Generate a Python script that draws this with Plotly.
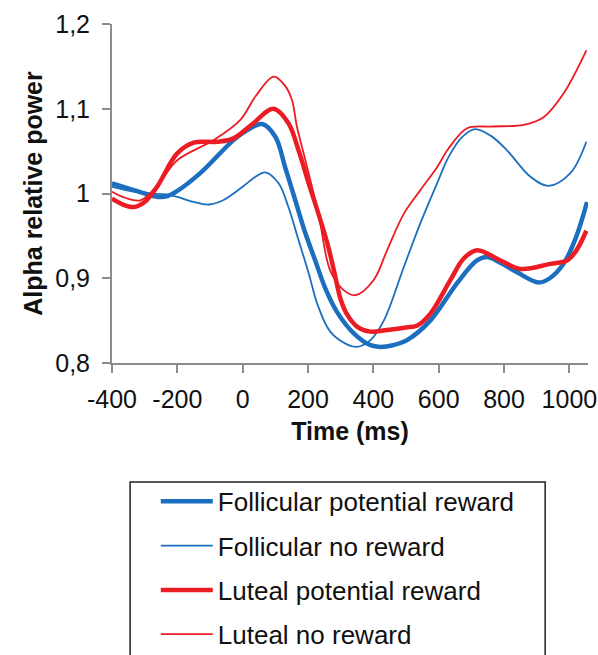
import plotly.graph_objects as go

# Time axis (ms) and alpha relative power for each condition
fol_pot_t = [-400, -350, -300, -260, -230, -200, -130, -28, 20, 59, 100, 130, 161, 192,
             222, 253, 289, 340, 391, 421, 460, 503, 574, 656, 717, 748, 790, 840, 906,
             940, 982, 1020, 1054]
fol_pot_v = [1.012, 1.006, 1.000, 0.996, 0.997, 1.003, 1.024, 1.063, 1.076, 1.082, 1.067,
             1.031, 0.992, 0.953, 0.921, 0.888, 0.860, 0.835, 0.821, 0.819, 0.821, 0.827,
             0.850, 0.894, 0.921, 0.925, 0.918, 0.907, 0.895, 0.900, 0.917, 0.948, 0.990]

fol_no_t = [-400, -330, -283, -232, -200, -150, -104, -60, 0, 40, 69, 110, 140, 171, 202,
            230, 268, 319, 350, 391, 432, 493, 544, 595, 630, 670, 711, 760, 809, 880,
            936, 1003, 1052]
fol_no_v = [1.008, 1.002, 1.000, 0.999, 0.996, 0.990, 0.987, 0.992, 1.008, 1.020, 1.025,
            1.012, 0.984, 0.945, 0.906, 0.868, 0.837, 0.822, 0.819, 0.827, 0.850, 0.913,
            0.965, 1.012, 1.043, 1.066, 1.076, 1.068, 1.051, 1.020, 1.009, 1.024, 1.061]

lut_pot_t = [-400, -360, -334, -300, -262, -201, -150, -79, -28, 30, 94, 140, 171, 202,
             232, 260, 280, 300, 320, 350, 391, 442, 500, 533, 574, 636, 676, 717, 789,
             850, 942, 993, 1020, 1052]
lut_pot_v = [0.994, 0.986, 0.984, 0.990, 1.008, 1.047, 1.060, 1.061, 1.065, 1.082, 1.100,
             1.083, 1.051, 1.012, 0.976, 0.940, 0.908, 0.875, 0.857, 0.843, 0.837, 0.839,
             0.842, 0.844, 0.858, 0.898, 0.923, 0.933, 0.921, 0.911, 0.917, 0.921, 0.932,
             0.956]

lut_no_t = [-400, -360, -313, -260, -201, -89, -7, 40, 95, 130, 151, 166, 192, 232, 268,
            309, 345, 401, 442, 493, 544, 595, 630, 687, 758, 860, 921, 982, 1052]
lut_no_v = [1.002, 0.995, 0.992, 1.010, 1.039, 1.063, 1.087, 1.115, 1.138, 1.127, 1.110,
            1.079, 1.039, 0.976, 0.909, 0.886, 0.880, 0.898, 0.933, 0.976, 1.004, 1.031,
            1.053, 1.077, 1.079, 1.081, 1.090, 1.118, 1.169]

x_tickvals = [-400, -200, 0, 200, 400, 600, 800, 1000]
x_ticktext = ["-400", "-200", "0", "200", "400", "600", "800", "1000"]
y_tickvals = [0.8, 0.9, 1.0, 1.1, 1.2]
y_ticktext = ["0,8", "0,9", "1", "1,1", "1,2"]

BLUE = "#1c6fbf"
RED = "#ec1c24"
FONT = "Liberation Sans, Arial, sans-serif"

series = [
    ("Follicular potential reward", fol_pot_t, fol_pot_v, BLUE, 4.5),
    ("Follicular no reward", fol_no_t, fol_no_v, BLUE, 1.8),
    ("Luteal potential reward", lut_pot_t, lut_pot_v, RED, 4.5),
    ("Luteal no reward", lut_no_t, lut_no_v, RED, 1.8),
]

fig = go.Figure()
for i, (name, t, v, color, width) in enumerate(series):
    fig.add_trace(go.Scatter(
        x=t, y=v, name=name, mode="lines",
        line=dict(color=color, width=width, shape="spline", smoothing=1.0),
        legendgroup=f"g{i}",
    ))

# frame around the legend entries
fig.add_shape(
    type="rect", xref="paper", yref="paper",
    x0=0.038, x1=0.91, y0=-1.2, y1=-0.351,
    line=dict(color="#222222", width=1.5), fillcolor="rgba(0,0,0,0)",
)

axis_color = "#8c8c8c"
fig.update_layout(
    width=598, height=655,
    margin=dict(l=112, r=10, t=24, b=292, autoexpand=False),
    paper_bgcolor="white", plot_bgcolor="white",
    font=dict(family=FONT, size=25, color="#111111"),
    showlegend=True,
    legend=dict(
        x=0.092, y=-0.339, xanchor="left", yanchor="top",
        borderwidth=0, bgcolor="rgba(0,0,0,0)",
        font=dict(family=FONT, size=26, color="#111111"),
        tracegroupgap=7.5, itemwidth=52,
    ),
    xaxis=dict(
        range=[-400, 1057], tickvals=x_tickvals, ticktext=x_ticktext,
        showgrid=False, zeroline=False,
        showline=True, linecolor=axis_color, linewidth=2,
        ticks="outside", ticklen=8, tickwidth=2, tickcolor=axis_color,
        ticklabelstandoff=5,
        title=dict(text="<b>Time (ms)</b>", font=dict(size=25), standoff=10),
    ),
    yaxis=dict(
        range=[0.8, 1.2], tickvals=y_tickvals, ticktext=y_ticktext,
        showgrid=False, zeroline=False,
        showline=True, linecolor=axis_color, linewidth=2,
        ticks="outside", ticklen=8, tickwidth=2, tickcolor=axis_color,
        ticklabelstandoff=7,
        title=dict(text="<b>Alpha relative power</b>", font=dict(size=25), standoff=5),
    ),
)

fig.write_html("out.html")
